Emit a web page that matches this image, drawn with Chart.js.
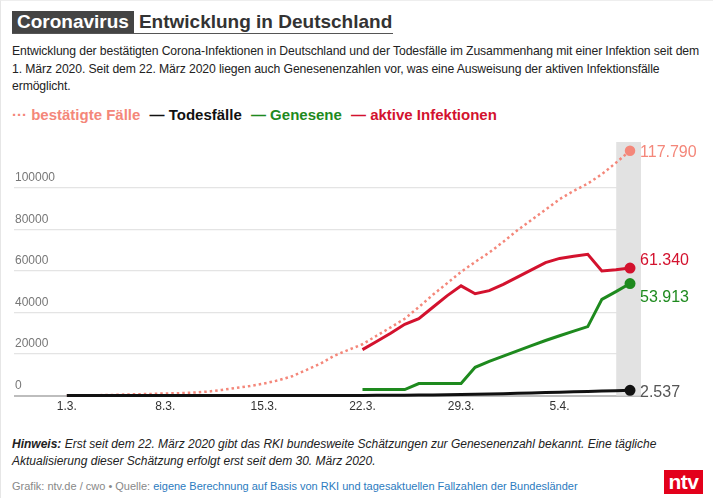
<!DOCTYPE html>
<html lang="de">
<head>
<meta charset="utf-8">
<title>Coronavirus Entwicklung in Deutschland</title>
<script src="https://cdn.jsdelivr.net/npm/chart.js@4.4.1/dist/chart.umd.min.js"></script>
<style>
  html, body { margin: 0; padding: 0; background: #fff; }
  body { width: 713px; height: 498px; position: relative; overflow: hidden;
         font-family: "Liberation Sans", Arial, Helvetica, sans-serif; color: #222; }
  #frame { position: absolute; left: 0; top: 0; width: 712px; height: 497px; border-left: 1px solid #e6e6e6; border-top: 1px solid #eee; }
  #title { position: absolute; left: 12px; top: 11px; width: 381px; height: 22px; border-bottom: 1px solid #555; white-space: nowrap; }
  #title .box { display: inline-block; background: #444; color: #fff; font-weight: bold; font-size: 19px; line-height: 22px; padding: 0 5px 0 5px; }
  #title .rest { display: inline-block; color: #333; font-weight: bold; font-size: 19px; line-height: 22px; margin-left: 5px; }
  #intro { position: absolute; left: 12px; top: 43px; width: 700px; font-size: 12.2px; letter-spacing: -0.1px; line-height: 17.5px; color: #222; white-space: nowrap; }
  #legend { position: absolute; left: 12px; top: 105px; font-size: 15px; font-weight: bold; white-space: nowrap; line-height: 20px; }
  #legend span { margin-right: 5px; }
  #wrap { position: absolute; left: 0; top: 130px; width: 713px; height: 290px; }
  #note { position: absolute; left: 12px; top: 436px; width: 690px; font-size: 12px; line-height: 17px; font-style: italic; color: #222; }
  #source { position: absolute; left: 12px; top: 480px; font-size: 11px; color: #888; white-space: nowrap; }
  #source .blue { color: #2b7bc0; }
  #logo { position: absolute; left: 664px; top: 470px; width: 39px; height: 24px; background: #e3001b; color: #fff;
          font-weight: bold; font-size: 21px; line-height: 23px; text-align: center; letter-spacing: -0.5px; }
</style>
</head>
<body>
<div id="frame"></div>
<div id="title"><span class="box">Coronavirus</span><span class="rest">Entwicklung in Deutschland</span></div>
<div id="intro">Entwicklung der bestätigten Corona-Infektionen in Deutschland und der Todesfälle im Zusammenhang mit einer Infektion seit dem<br>1. März 2020. Seit dem 22. März 2020 liegen auch Genesenenzahlen vor, was eine Ausweisung der aktiven Infektionsfälle<br>ermöglicht.</div>
<div id="legend">
  <span style="color:#f4877a">··· bestätigte Fälle</span>
  <span style="color:#111">— Todesfälle</span>
  <span style="color:#1e8a1e">— Genesene</span>
  <span style="color:#d3122e">— aktive Infektionen</span>
</div>
<div id="wrap"><canvas id="chart"></canvas></div>
<div id="note"><b>Hinweis:</b> Erst seit dem 22. März 2020 gibt das RKI bundesweite Schätzungen zur Genesenenzahl bekannt. Eine tägliche Aktualisierung dieser Schätzung erfolgt erst seit dem 30. März 2020.</div>
<div id="source">Grafik: ntv.de / cwo • Quelle: <span class="blue">eigene Berechnung auf Basis von RKI und tagesaktuellen Fallzahlen der Bundesländer</span></div>
<div id="logo">ntv</div>

<script>
// Tage 1.3. bis 10.4.2020
const dates = ['1.3.','2.3.','3.3.','4.3.','5.3.','6.3.','7.3.','8.3.','9.3.','10.3.',
  '11.3.','12.3.','13.3.','14.3.','15.3.','16.3.','17.3.','18.3.','19.3.','20.3.',
  '21.3.','22.3.','23.3.','24.3.','25.3.','26.3.','27.3.','28.3.','29.3.','30.3.',
  '31.3.','1.4.','2.4.','3.4.','4.4.','5.4.','6.4.','7.4.','8.4.','9.4.','10.4.'];

const bestaetigt = [130,160,200,260,480,670,800,1040,1180,1460,
  1900,2700,3700,4600,5800,7300,9300,12300,15300,19200,
  22000,24700,28800,32800,37000,42600,48500,54000,59500,64300,
  68800,74000,79500,84500,89500,94500,98500,102000,106500,112000,117790];

const todesfaelle = [0,0,0,0,0,0,0,0,2,2,
  3,6,8,9,13,17,24,28,44,67,
  84,94,123,157,206,267,342,433,533,645,
  775,920,1107,1275,1444,1584,1810,2000,2200,2380,2537];

const genesene = [null,null,null,null,null,null,null,null,null,null,
  null,null,null,null,null,null,null,null,null,null,
  null,2900,2900,2900,2900,5800,5800,5800,5800,13600,
  16500,19000,21500,24000,26500,28800,31000,33200,46300,50000,53913];

const aktiv = [null,null,null,null,null,null,null,null,null,null,
  null,null,null,null,null,null,null,null,null,null,
  null,22100,26000,30000,34300,37000,42500,48000,52800,49000,
  50500,53500,57000,60500,64000,66000,67000,68000,60000,60500,61340];

const yTicks = [0, 20000, 40000, 60000, 80000, 100000];
const xTicks = [0, 7, 14, 21, 28, 35];

function toPoints(arr) {
  return arr.map((v, i) => ({ x: i, y: v }));
}
const last = dates.length - 1;
function endDot(r) {
  return ctx => ctx.dataIndex === last ? r : 0;
}
function fmt(v) {
  return v.toLocaleString('de-DE');
}

// grauer Balken hinter dem letzten Tag
const bandPlugin = {
  id: 'band',
  beforeDatasetsDraw(chart) {
    const { ctx, chartArea, scales } = chart;
    const x1 = scales.x.getPixelForValue(last - 0.98);
    const x2 = scales.x.getPixelForValue(last + 0.78);
    ctx.save();
    ctx.fillStyle = '#e2e2e2';
    ctx.fillRect(x1, chartArea.top, x2 - x1, chartArea.bottom - chartArea.top);
    ctx.restore();
  }
};

// Werte am Linienende
const endLabelPlugin = {
  id: 'endLabels',
  afterDatasetsDraw(chart) {
    const { ctx, scales } = chart;
    ctx.save();
    ctx.font = '16px "Liberation Sans", Arial, sans-serif';
    ctx.textBaseline = 'middle';
    ctx.textAlign = 'left';
    chart.data.datasets.forEach(ds => {
      const v = ds.data[last].y;
      const x = scales.x.getPixelForValue(last) + 10;
      const y = scales.y.getPixelForValue(v) + (ds.labelDy || 0);
      ctx.fillStyle = ds.labelColor || ds.borderColor;
      ctx.fillText(fmt(v), x, y);
    });
    ctx.restore();
  }
};

new Chart(document.getElementById('chart'), {
  type: 'line',
  data: {
    datasets: [
      {
        label: 'Todesfälle',
        data: toPoints(todesfaelle),
        borderColor: '#111',
        backgroundColor: '#111',
        borderWidth: 3,
        pointRadius: endDot(4),
        labelColor: '#555',
        labelDy: 2
      },
      {
        label: 'Genesene',
        data: toPoints(genesene),
        borderColor: '#1e8a1e',
        backgroundColor: '#1e8a1e',
        borderWidth: 3,
        pointRadius: endDot(4),
        labelDy: 14
      },
      {
        label: 'aktive Infektionen',
        data: toPoints(aktiv),
        borderColor: '#d3122e',
        backgroundColor: '#d3122e',
        borderWidth: 3,
        pointRadius: endDot(4),
        labelDy: -7
      },
      {
        label: 'bestätigte Fälle',
        data: toPoints(bestaetigt),
        borderColor: '#f4877a',
        backgroundColor: '#f4877a',
        borderWidth: 2.5,
        borderDash: [2.5, 3],
        pointRadius: endDot(4),
        labelDy: 2
      }
    ]
  },
  options: {
    responsive: true,
    maintainAspectRatio: false,
    animation: false,
    clip: false,
    layout: { padding: { left: 12, right: 72, top: 12, bottom: 2 } },
    plugins: {
      legend: { display: false },
      tooltip: { enabled: false }
    },
    scales: {
      x: {
        type: 'linear',
        min: -3.75,
        max: last + 0.78,
        afterBuildTicks: axis => { axis.ticks = xTicks.map(v => ({ value: v })); },
        ticks: {
          callback: v => dates[v],
          color: '#333',
          font: { size: 12, family: '"Liberation Sans", Arial, sans-serif' },
          padding: 4,
          maxRotation: 0
        },
        grid: { display: false, drawTicks: false },
        border: { display: false }
      },
      y: {
        min: 0,
        max: 122000,
        afterBuildTicks: axis => { axis.ticks = yTicks.map(v => ({ value: v })); },
        ticks: {
          mirror: true,
          padding: 1,
          labelOffset: -10,
          color: '#777',
          font: { size: 12, family: '"Liberation Sans", Arial, sans-serif' },
          callback: v => String(v)
        },
        grid: {
          drawTicks: false,
          color: ctx => ctx.tick && ctx.tick.value === 0 ? '#bdbdbd' : '#e4e4e4',
          lineWidth: ctx => ctx.tick && ctx.tick.value === 0 ? 2 : 1.2
        },
        border: { display: false }
      }
    }
  },
  plugins: [bandPlugin, endLabelPlugin]
});
</script>
</body>
</html>
